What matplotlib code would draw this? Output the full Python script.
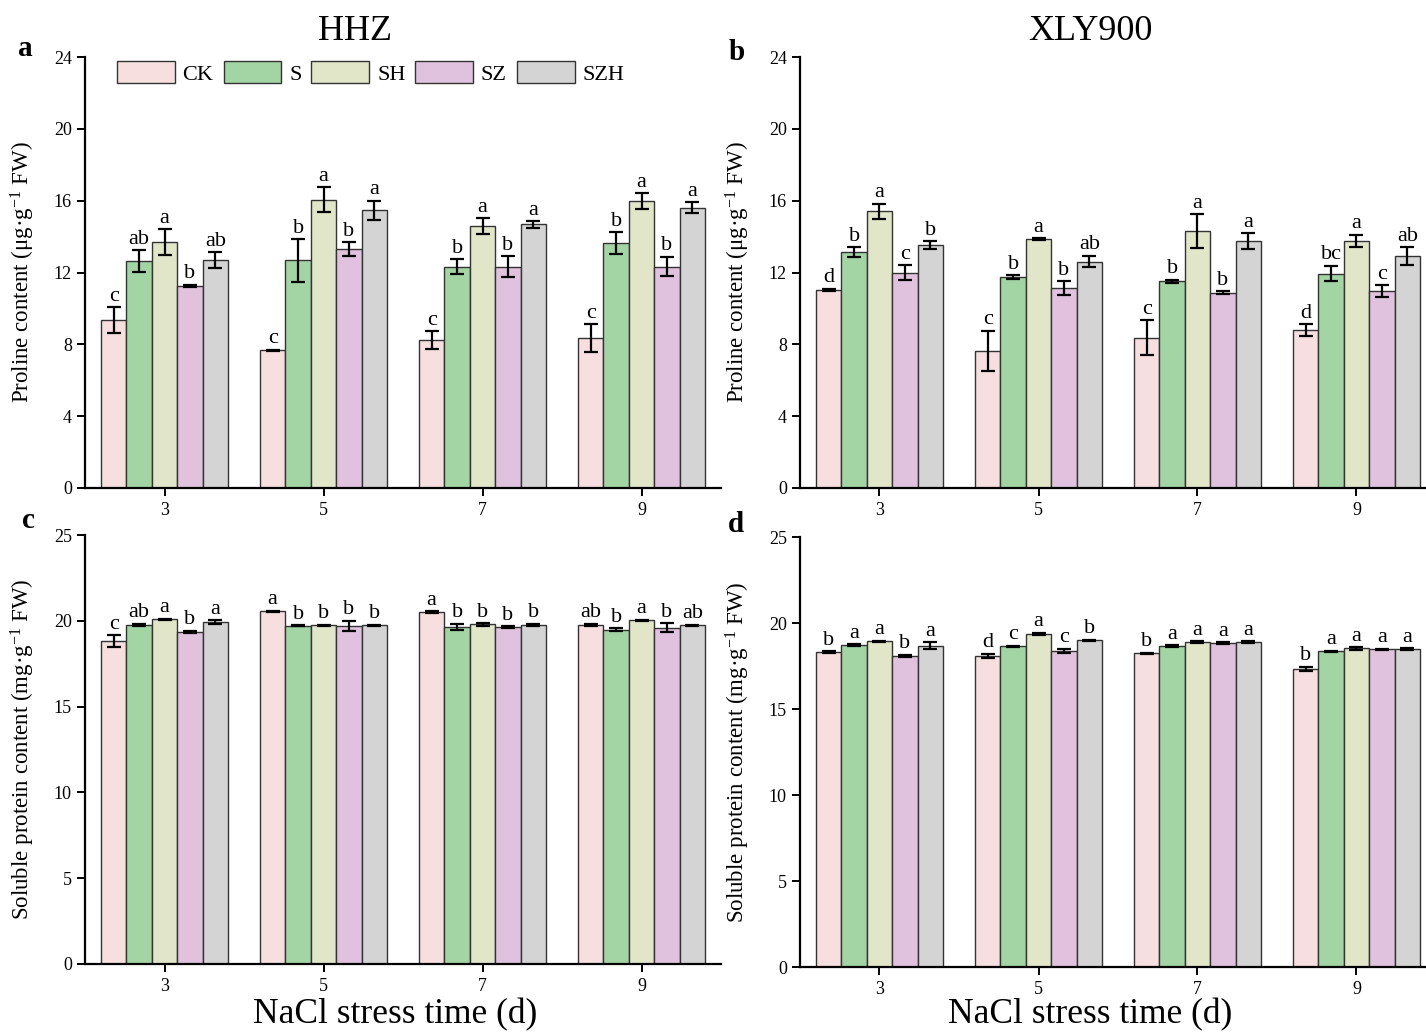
import matplotlib
matplotlib.use('Agg')
import matplotlib.pyplot as plt
import numpy as np

plt.rcParams['font.family'] = ['Liberation Serif', 'DejaVu Serif']
plt.rcParams['mathtext.fontset'] = 'custom'
plt.rcParams['mathtext.rm'] = 'Liberation Serif'
plt.rcParams['mathtext.it'] = 'Liberation Serif:italic'

# data: rows = treatments, columns = days
days = [3, 5, 7, 9]
treatments = ['CK', 'S', 'SH', 'SZ', 'SZH']
colors = ['#f7dfdf', '#a2d5a3', '#e1e6c8', '#e0c2de', '#d4d4d4']

pro_hhz = [[9.34, 7.66, 8.24, 8.33],
           [12.65, 12.67, 12.33, 13.64],
           [13.70, 16.05, 14.59, 15.98],
           [11.25, 13.30, 12.33, 12.33],
           [12.70, 15.46, 14.68, 15.60]]
pro_hhz_err = [[0.72, 0.05, 0.49, 0.78],
               [0.60, 1.18, 0.41, 0.60],
               [0.72, 0.70, 0.42, 0.45],
               [0.08, 0.38, 0.58, 0.55],
               [0.43, 0.54, 0.19, 0.30]]
pro_hhz_sig = [['c', 'c', 'c', 'c'],
               ['ab', 'b', 'b', 'b'],
               ['a', 'a', 'a', 'a'],
               ['b', 'b', 'b', 'b'],
               ['ab', 'a', 'a', 'a']]

pro_xly = [[11.03, 7.63, 8.37, 8.80],
           [13.13, 11.74, 11.50, 11.94],
           [15.40, 13.86, 14.29, 13.75],
           [12.00, 11.14, 10.88, 10.96],
           [13.54, 12.61, 13.75, 12.90]]
pro_xly_err = [[0.06, 1.13, 0.98, 0.33],
               [0.28, 0.10, 0.10, 0.43],
               [0.44, 0.06, 0.95, 0.35],
               [0.40, 0.38, 0.07, 0.33],
               [0.22, 0.33, 0.43, 0.50]]
pro_xly_sig = [['d', 'c', 'c', 'd'],
               ['b', 'b', 'b', 'bc'],
               ['a', 'a', 'a', 'a'],
               ['c', 'b', 'b', 'c'],
               ['b', 'ab', 'a', 'ab']]

sp_hhz = [[18.82, 20.56, 20.52, 19.75],
          [19.77, 19.71, 19.65, 19.48],
          [20.08, 19.75, 19.79, 20.02],
          [19.34, 19.71, 19.65, 19.59],
          [19.92, 19.75, 19.75, 19.73]]
sp_hhz_err = [[0.34, 0.03, 0.04, 0.08],
              [0.05, 0.03, 0.17, 0.10],
              [0.05, 0.03, 0.08, 0.04],
              [0.08, 0.30, 0.05, 0.26],
              [0.10, 0.03, 0.08, 0.05]]
sp_hhz_sig = [['c', 'a', 'a', 'ab'],
              ['ab', 'b', 'b', 'b'],
              ['a', 'b', 'b', 'a'],
              ['b', 'b', 'b', 'b'],
              ['a', 'b', 'b', 'ab']]

sp_xly = [[18.31, 18.10, 18.24, 17.33],
          [18.72, 18.64, 18.66, 18.35],
          [18.95, 19.38, 18.88, 18.53],
          [18.10, 18.39, 18.82, 18.47],
          [18.68, 19.01, 18.88, 18.47]]
sp_xly_err = [[0.06, 0.12, 0.03, 0.12],
              [0.05, 0.05, 0.04, 0.03],
              [0.03, 0.05, 0.07, 0.08],
              [0.06, 0.12, 0.05, 0.03],
              [0.20, 0.03, 0.07, 0.06]]
sp_xly_sig = [['b', 'd', 'b', 'b'],
              ['a', 'c', 'a', 'a'],
              ['a', 'a', 'a', 'a'],
              ['b', 'c', 'a', 'a'],
              ['a', 'b', 'a', 'a']]

W, H = 1426, 1032
fig = plt.figure(figsize=(W / 100, H / 100), dpi=100)


def px_axes(left, right, top, bottom):
    return fig.add_axes([left / W, 1 - bottom / H, (right - left) / W, (bottom - top) / H])


def draw_panel(ax, vals, errs, sigs, ymax, yticks, ylabel):
    bw = 0.32
    x = np.array(days, dtype=float)
    for i, t in enumerate(treatments):
        xi = x + (i - 2) * bw
        ax.bar(xi, vals[i], width=bw, color=colors[i], edgecolor='#333333',
               linewidth=1.0, label=t, zorder=2)
        ax.errorbar(xi, vals[i], yerr=errs[i], fmt='none', ecolor='black',
                    elinewidth=1.6, capsize=5, capthick=1.6, zorder=3)
        for j in range(len(days)):
            ax.annotate(sigs[i][j], (xi[j], vals[i][j] + errs[i][j]),
                        xytext=(0, 1), textcoords='offset points',
                        ha='center', va='bottom', fontsize=16)
    ax.set_xlim(2, 10)
    ax.set_ylim(0, ymax)
    ax.set_xticks(days)
    ax.set_yticks(yticks)
    ax.spines['top'].set_visible(False)
    ax.spines['right'].set_visible(False)
    for s in ['left', 'bottom']:
        ax.spines[s].set_linewidth(1.6)
    ax.tick_params(axis='both', direction='out', length=6, width=1.4, labelsize=13)
    ax.tick_params(axis='x', pad=4)
    ax.set_ylabel(ylabel, fontsize=16.5)
    ax.yaxis.set_label_coords(-0.075, 0.5)


pro_label = 'Proline content (μg·g$^{\\mathregular{-1}}$ FW)'
sp_label = 'Soluble protein content (mg·g$^{\\mathregular{-1}}$ FW)'

ax_a = px_axes(85, 721, 57, 488)
draw_panel(ax_a, pro_hhz, pro_hhz_err, pro_hhz_sig, 24, [0, 4, 8, 12, 16, 20, 24], pro_label)
ax_b = px_axes(800, 1436, 57, 488)
draw_panel(ax_b, pro_xly, pro_xly_err, pro_xly_sig, 24, [0, 4, 8, 12, 16, 20, 24], pro_label)
ax_c = px_axes(85, 721, 535, 964)
draw_panel(ax_c, sp_hhz, sp_hhz_err, sp_hhz_sig, 25, [0, 5, 10, 15, 20, 25], sp_label)
ax_d = px_axes(800, 1436, 537, 967)
draw_panel(ax_d, sp_xly, sp_xly_err, sp_xly_sig, 25, [0, 5, 10, 15, 20, 25], sp_label)

ax_a.legend(loc='center left', bbox_to_anchor=(117 / W, 1 - 73 / H),
            bbox_transform=fig.transFigure, ncol=5, frameon=False, fontsize=16,
            handlelength=2.6, handleheight=1.15, handletextpad=0.35,
            columnspacing=0.45, borderpad=0, borderaxespad=0)

fig.text(355 / W, 1 - 32 / H, 'HHZ', fontsize=26, ha='center', va='center')
fig.text(1090 / W, 1 - 32 / H, 'XLY900', fontsize=26, ha='center', va='center')

for lbl, xp, yp in [('a', 25, 49), ('b', 737, 53), ('c', 28, 521), ('d', 736, 525)]:
    fig.text(xp / W, 1 - yp / H, lbl, fontsize=21, fontweight='bold', ha='center', va='center')

fig.text(395 / W, 1 - 1015 / H, 'NaCl stress time (d)', fontsize=25.5, ha='center', va='center')
fig.text(1090 / W, 1 - 1015 / H, 'NaCl stress time (d)', fontsize=25.5, ha='center', va='center')

fig.savefig('out.png', dpi=100)
